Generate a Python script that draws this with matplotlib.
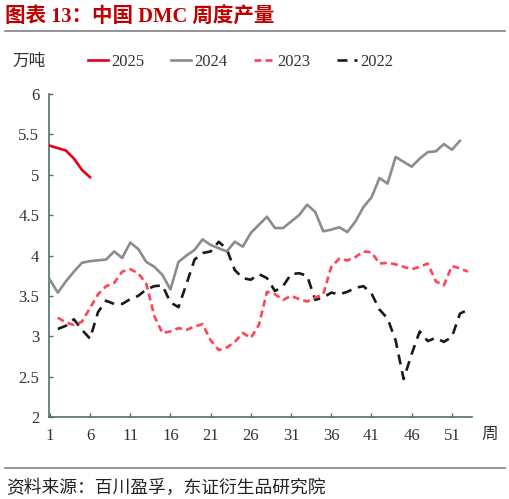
import numpy as np
import matplotlib
matplotlib.use("Agg")
import matplotlib.pyplot as plt
from matplotlib.lines import Line2D

plt.rcParams['font.family'] = ['Liberation Serif', 'Noto Sans CJK SC', 'DejaVu Sans']

nan = np.nan
weeks = list(range(1, 54))

y2025 = [5.36, 5.33, 5.30, 5.20, 5.06, 4.97]

y2024 = [3.70, 3.54, 3.68, 3.80, 3.91, 3.93, 3.94, 3.95, 4.05, 3.97,
         4.16, 4.08, 3.92, 3.86, 3.76, 3.58, 3.92, 4.00, 4.07, 4.20,
         4.13, 4.09, 4.05, 4.17, 4.11, 4.28, 4.38, 4.48, 4.34, 4.34,
         4.42, 4.50, 4.63, 4.54, 4.30, 4.32, 4.35, 4.29, 4.42, 4.60,
         4.72, 4.96, 4.89, 5.22, 5.16, 5.10, 5.20, 5.28, 5.29, 5.38,
         5.31, 5.42]

y2023 = [nan, 3.23, 3.17, 3.14, 3.18, 3.35, 3.52, 3.62, 3.66, 3.80,
         3.83, 3.78, 3.65, 3.25, 3.04, 3.06, 3.10, 3.08, 3.12, 3.15,
         2.95, 2.83, 2.86, 2.93, 3.04, 2.98, 3.14, 3.55, 3.52, 3.45,
         3.50, 3.46, 3.43, 3.48, 3.52, 3.86, 3.96, 3.94, 3.98, 4.05,
         4.04, 3.90, 3.91, 3.89, 3.86, 3.83, 3.86, 3.90, 3.68, 3.63,
         3.87, 3.84, 3.80]

y2022 = [nan, 3.09, 3.13, 3.21, 3.08, 2.97, 3.30, 3.44, 3.40, 3.40,
         3.46, 3.50, 3.58, 3.62, 3.63, 3.42, 3.36, 3.65, 3.95, 4.03,
         4.05, 4.17, 4.08, 3.82, 3.72, 3.70, 3.77, 3.72, 3.56, 3.62,
         3.77, 3.78, 3.75, 3.45, 3.48, 3.54, 3.52, 3.55, 3.60, 3.62,
         3.53, 3.33, 3.22, 2.95, 2.47, 2.78, 3.06, 2.94, 2.98, 2.93,
         2.99, 3.28, 3.33]

x_ticks = [1, 6, 11, 16, 21, 26, 31, 36, 41, 46, 51]
y_ticks = [2, 2.5, 3, 3.5, 4, 4.5, 5, 5.5, 6]
y_labels = ['2', '2.5', '3', '3.5', '4', '4.5', '5', '5.5', '6']

fig = plt.figure(figsize=(5.10, 4.99), dpi=100)
ax = fig.add_axes([49/510, 1-417/499, (472-49)/510, (417-94)/499])

c25, c24, c23, c22 = '#E60012', '#8C8C8C', '#FF4454', '#1A1A1A'
lw = 1.9
common = dict(lw=lw, solid_joinstyle='round', dash_joinstyle='round')
ax.plot(weeks[:len(y2022)], y2022, color=c22, dashes=(3.8, 2.6), label='2022', zorder=2, **common)
ax.plot(weeks[:len(y2023)], y2023, color=c23, dashes=(2.6, 1.6), label='2023', zorder=3, **common)
ax.plot(weeks[:len(y2024)], y2024, color=c24, label='2024', zorder=4, **common)
ax.plot(weeks[:len(y2025)], y2025, color=c25, label='2025', zorder=5, **common)

ax.set_xlim(0.9, 53.5)
ax.set_ylim(2, 6)
ax.set_xticks(x_ticks)
ax.set_xticklabels([str(t) for t in x_ticks])
ax.set_yticks(y_ticks)
ax.set_yticklabels(y_labels)

spine_c = '#4E6E6E'
for s in ['top', 'right']:
    ax.spines[s].set_visible(False)
for s in ['left', 'bottom']:
    ax.spines[s].set_color(spine_c)
    ax.spines[s].set_linewidth(1.2)
ax.tick_params(axis='both', direction='in', length=3, width=1, color=spine_c,
               labelsize=12, labelcolor='#333333')
ax.tick_params(axis='x', pad=8)
ax.tick_params(axis='y', pad=7)

# legend
handles = [Line2D([], [], color=c25, lw=lw),
           Line2D([], [], color=c24, lw=lw),
           Line2D([], [], color=c23, lw=lw, dashes=(2.6, 1.6)),
           Line2D([], [], color=c22, lw=lw, dashes=(3.8, 2.6))]
fig.legend(handles, ['2025', '2024', '2023', '2022'], ncol=4,
           loc='center left', bbox_to_anchor=(88/510, 1-62/499),
           frameon=False, fontsize=12, handlelength=1.2, handletextpad=0.2,
           columnspacing=1.6, borderpad=0, borderaxespad=0, labelcolor='#333333')

fig.text(12/510, 1-62/499, '万吨', fontsize=12, va='center', ha='left', color='#333333')
fig.text(481/510, 1-435/499, '周', fontsize=12, va='center', ha='left', color='#333333')

fig.text(5/510, 1-17/499, '图表 13：中国 DMC 周度产量', fontsize=14.8, fontweight='bold',
         va='center', ha='left', color='#C00000')
fig.add_artist(Line2D([5/510, 505/510], [1-31/499, 1-31/499], color='#808080', lw=1.2))
fig.add_artist(Line2D([5/510, 505/510], [1-468/499, 1-468/499], color='#808080', lw=1.2))
fig.text(6/510, 1-488/499, '资料来源：百川盈孚，东证衍生品研究院', fontsize=12.8,
         va='center', ha='left', color='#222222')

fig.savefig('out.png', dpi=100)
